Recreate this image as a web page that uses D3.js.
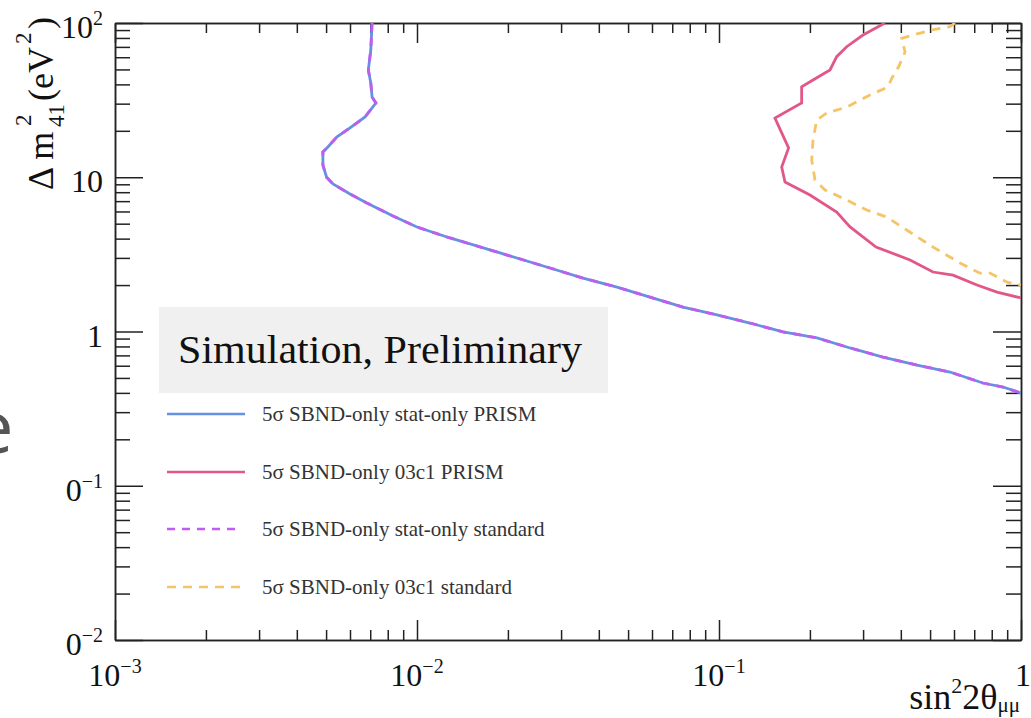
<!DOCTYPE html>
<meta charset="utf-8">
<style>
body { margin: 0; background: #fff; }
svg text { font-family: "Liberation Serif", "Times New Roman", serif; fill: #111; }
.axis path, .axis line { stroke: #222; stroke-width: 1.5px; }
</style>
<body>
<svg width="1031" height="718"></svg>
</body>
<script src="https://d3js.org/d3.v7.min.js"></script>
<script>

// contours: sin^2 2theta (x) against dm^2_41 in eV^2 (y)
var statPrismX = [0.00710, 0.00703, 0.00690, 0.00703, 0.00710, 0.00731, 0.00673, 0.00600, 0.00542, 0.00507,
                  0.00488, 0.00488, 0.00502, 0.00527, 0.00600, 0.00682, 0.00833, 0.0100, 0.01286, 0.01883,
                  0.02757, 0.03545, 0.04595, 0.05908, 0.0760, 0.0985, 0.1266, 0.1629, 0.2111, 0.2716,
                  0.349, 0.4524, 0.582, 0.748, 0.872, 1.0];
var statPrismY = [100, 66.8, 49.6, 40.8, 33.1, 30.3, 24.6, 20.9, 18.2, 15.7,
                  14.6, 12.0, 10.0, 9.04, 7.79, 6.81, 5.61, 4.76, 4.04, 3.23,
                  2.58, 2.22, 1.94, 1.67, 1.44, 1.28, 1.135, 0.993, 0.908, 0.782,
                  0.683, 0.606, 0.546, 0.4635, 0.4367, 0.399];

// stat-only standard sits right on top of the PRISM one in the plot
var statStdX = statPrismX;
var statStdY = statPrismY;

var systPrismX = [0.3545, 0.2998, 0.2647, 0.2453, 0.2331, 0.2048, 0.1878, 0.1878, 0.1532, 0.1613,
                  0.170, 0.1613, 0.1654, 0.2001, 0.2453, 0.2716, 0.3311, 0.4290, 0.5112, 0.5955,
                  0.7149, 0.8327, 1.0];
var systPrismY = [100, 83.6, 70.2, 60.5, 49.6, 42.7, 38.6, 30.3, 24.2, 19.4,
                  15.5, 11.65, 9.32, 7.67, 5.95, 4.76, 3.53, 2.91, 2.43, 2.32,
                  2.00, 1.80, 1.65];

var systStdX = [0.6046, 0.582, 0.5074, 0.4389, 0.4027, 0.4130, 0.3945, 0.3739, 0.3627, 0.3162,
                0.2647, 0.2273, 0.2106, 0.2048, 0.2028, 0.2079, 0.2244, 0.2647, 0.3083, 0.3591,
                0.4183, 0.5112, 0.628, 0.7314, 0.7897, 0.899, 1.0];
var systStdY = [100, 94.6, 90.1, 83.6, 79.6, 64.9, 52.6, 44.0, 38.5, 34.1,
                28.5, 26.1, 23.5, 17.4, 12.9, 9.60, 8.27, 7.12, 6.13, 5.52,
                4.55, 3.53, 2.78, 2.39, 2.39, 2.09, 2.00];

var legendNames = ["5σ SBND-only stat-only PRISM", "5σ SBND-only 03c1 PRISM",
                   "5σ SBND-only stat-only standard", "5σ SBND-only 03c1 standard"];

var xTickValues = [1e-3, 1e-2, 1e-1, 1];
var xTickLabels = ["10^−3", "10^−2", "10^−1", "1"];
var yTickValues = [1e-2, 1e-1, 1, 10, 100];
var yTickLabels = ["10^−2", "10^−1", "1", "10", "10^2"];

var svg = d3.select("svg");
var pl = 115, pr = 1021, pt = 23, pb = 640;

var x = d3.scaleLog().domain([1e-3, 1]).range([pl, pr]);
var y = d3.scaleLog().domain([1e-2, 1e2]).range([pb, pt]);

var xMinor = x.ticks().filter(function(v) { return xTickValues.indexOf(v) < 0; });
var yMinor = y.ticks().filter(function(v) { return yTickValues.indexOf(v) < 0; });

// ticks on all four sides, pointing inwards
function ax(gen, scale, vals, size, tr) {
  svg.append("g").attr("class", "axis").attr("transform", tr)
    .call(gen(scale).tickValues(vals).tickSize(size).tickSizeOuter(0).tickFormat(""));
}
ax(d3.axisBottom, x, xMinor, -10, "translate(0," + pb + ")");
ax(d3.axisBottom, x, xTickValues, -20, "translate(0," + pb + ")");
ax(d3.axisTop, x, xMinor, -10, "translate(0," + pt + ")");
ax(d3.axisTop, x, xTickValues, -20, "translate(0," + pt + ")");
ax(d3.axisLeft, y, yMinor, -15, "translate(" + pl + ",0)");
ax(d3.axisLeft, y, yTickValues, -28, "translate(" + pl + ",0)");
ax(d3.axisRight, y, yMinor, -15, "translate(" + pr + ",0)");
ax(d3.axisRight, y, yTickValues, -28, "translate(" + pr + ",0)");

function powLabel(sel, label) {
  var p = label.split("^");
  sel.append("tspan").text(p[0]);
  if (p[1]) sel.append("tspan").attr("dy", -13).style("font-size", "20px").text(p[1]);
}

// left edge of the slide covers the start of the lower labels
svg.append("clipPath").attr("id", "lblclip").append("rect")
  .attr("x", 65).attr("y", 0).attr("width", 1031).attr("height", 718);

yTickValues.forEach(function(v, i) {
  var t = svg.append("text").attr("x", 103).attr("y", y(v) + 15)
    .attr("text-anchor", "end").style("font-size", "32px");
  if (v < 0.5) t.attr("clip-path", "url(#lblclip)");
  powLabel(t, yTickLabels[i]);
});
xTickValues.forEach(function(v, i) {
  var t = svg.append("text").attr("x", x(v) + (v == 1 ? 2 : 0)).attr("y", 686)
    .attr("text-anchor", "middle").style("font-size", "32px");
  powLabel(t, xTickLabels[i]);
});

// axis titles
var xt = svg.append("text").attr("x", 1020).attr("y", 709)
  .attr("text-anchor", "end").style("font-size", "36px");
xt.append("tspan").text("sin");
xt.append("tspan").attr("dy", -16).style("font-size", "22px").text("2");
xt.append("tspan").attr("dy", 16).text("2θ");
xt.append("tspan").attr("dy", 3).style("font-size", "21px").text("μμ");

var yt = svg.append("g").attr("transform", "translate(53,190) rotate(-90)");
yt.append("text").attr("x", 0).style("font-size", "36px").text("Δ m");
yt.append("text").attr("x", 64).attr("y", -22).style("font-size", "23px").text("2");
yt.append("text").attr("x", 63).attr("y", 11).style("font-size", "23px").text("41");
yt.append("text").attr("x", 89).style("font-size", "36px").text("(eV");
yt.append("text").attr("x", 146).attr("y", -22).style("font-size", "23px").text("2");
yt.append("text").attr("x", 161).style("font-size", "36px").text(")");

// piece of slide text showing at the left edge
svg.append("text").attr("x", -28).attr("y", 453)
  .style("font-family", "'Open Sans', sans-serif").style("font-size", "74px")
  .style("fill", "#555").text("e");

// contours
svg.append("clipPath").attr("id", "plotclip").append("rect")
  .attr("x", pl).attr("y", pt).attr("width", pr - pl).attr("height", pb - pt);

var line = d3.line().x(function(d) { return x(d[0]); }).y(function(d) { return y(d[1]); });
var series = [
  {xs: statPrismX, ys: statPrismY, color: "#6690e0", dash: null},
  {xs: systPrismX, ys: systPrismY, color: "#e2578a", dash: null},
  {xs: statStdX, ys: statStdY, color: "#c05cf0", dash: "8,7"},
  {xs: systStdX, ys: systStdY, color: "#f5c565", dash: "9,7"}
];
var curves = svg.append("g").attr("clip-path", "url(#plotclip)");
series.forEach(function(s) {
  curves.append("path")
    .datum(d3.zip(s.xs, s.ys))
    .attr("d", line)
    .attr("fill", "none")
    .attr("stroke", s.color)
    .attr("stroke-width", 2.8)
    .attr("stroke-dasharray", s.dash);
});

// legend
svg.append("rect").attr("x", 159).attr("y", 307).attr("width", 449).attr("height", 86)
  .attr("fill", "#f0f0f0");
svg.append("text").attr("x", 178).attr("y", 363).style("font-size", "40px")
  .attr("textLength", 404).attr("lengthAdjust", "spacingAndGlyphs")
  .text("Simulation, Preliminary");

var legY = [414, 472, 529, 587];
series.forEach(function(s, i) {
  svg.append("line").attr("x1", 167).attr("x2", s.dash ? 241 : 245)
    .attr("y1", legY[i]).attr("y2", legY[i])
    .attr("stroke", s.color).attr("stroke-width", 2.7)
    .attr("stroke-dasharray", s.dash);
  svg.append("text").attr("x", 262).attr("y", legY[i] + 7)
    .style("font-size", "21px").style("fill", "#333").text(legendNames[i]);
});

</script>
